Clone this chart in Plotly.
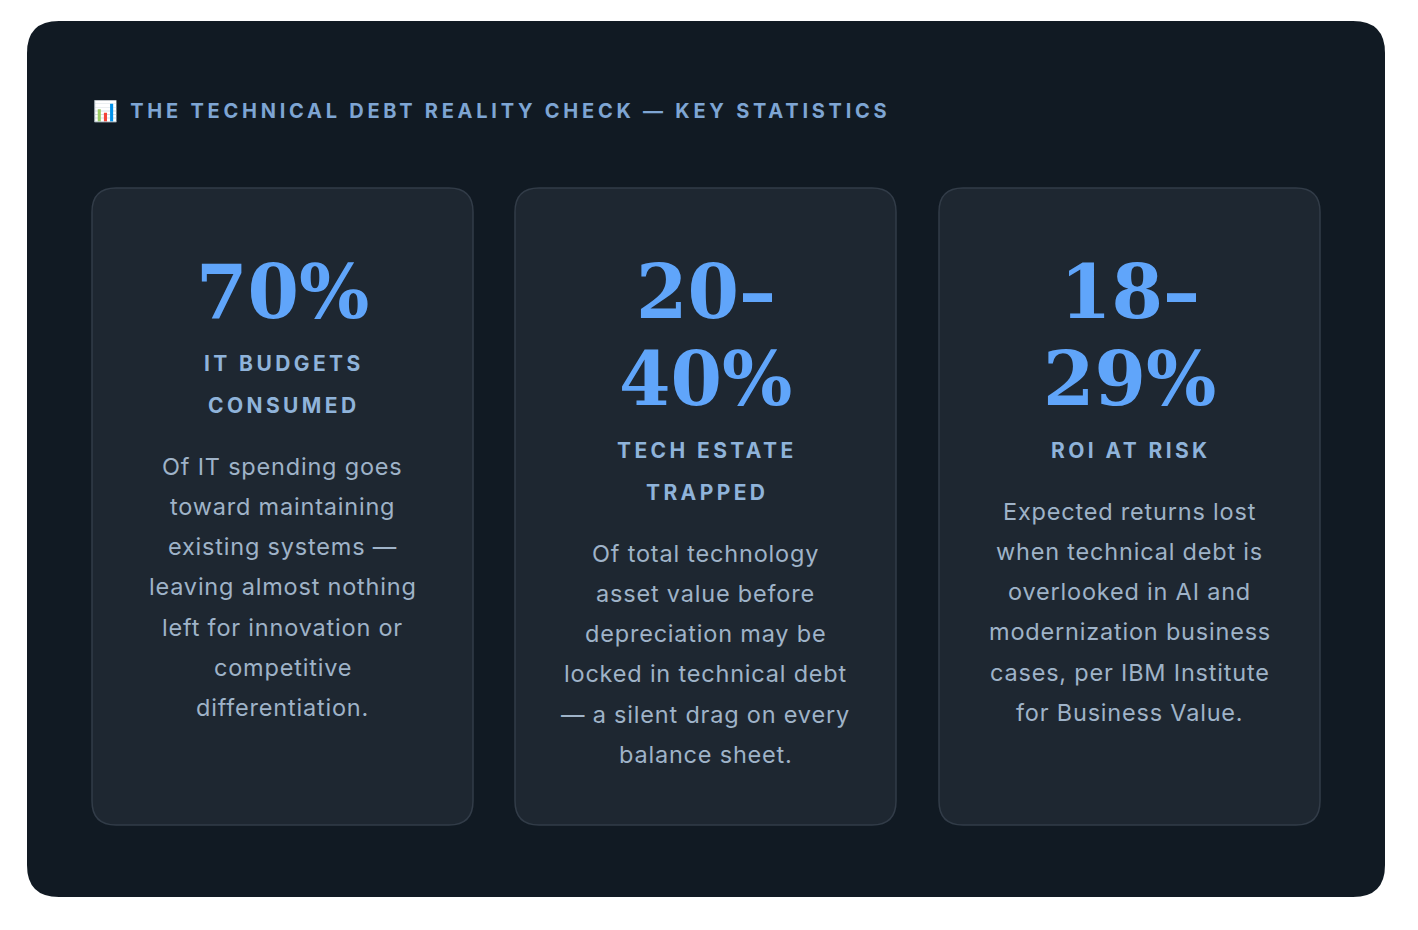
import plotly.graph_objects as go

# ---- data ----
title_text = "📊 THE TECHNICAL DEBT REALITY CHECK — KEY STATISTICS"
stat_values = [["70%"], ["20–", "40%"], ["18–", "29%"]]
stat_labels = [["IT BUDGETS", "CONSUMED"], ["TECH ESTATE", "TRAPPED"], ["ROI AT RISK"]]
stat_descriptions = [
    ["Of IT spending goes", "toward maintaining", "existing systems —",
     "leaving almost nothing", "left for innovation or", "competitive",
     "differentiation."],
    ["Of total technology", "asset value before", "depreciation may be",
     "locked in technical debt", "— a silent drag on every", "balance sheet."],
    ["Expected returns lost", "when technical debt is", "overlooked in AI and",
     "modernization business", "cases, per IBM Institute", "for Business Value."],
]

# ---- style ----
PAGE_W, PAGE_H = 1418, 930
OFF = 8  # page body margin
W, H = PAGE_W - 2 * OFF, PAGE_H - 2 * OFF
BG_OUT = "#ffffff"
PANEL = "#111a23"
CARD = "#1e2731"
CARD_LINE = "#323c48"
NUM_COL = "#60a5fa"
LABEL_COL = "#8fb3da"
DESC_COL = "#9fb3c8"
TITLE_COL = "#7ea5d3"


def rrect(x0, y0, x1, y1, r):
    return (f"M {x0+r},{y0} L {x1-r},{y0} Q {x1},{y0} {x1},{y0+r} "
            f"L {x1},{y1-r} Q {x1},{y1} {x1-r},{y1} L {x0+r},{y1} "
            f"Q {x0},{y1} {x0},{y1-r} L {x0},{y0+r} Q {x0},{y0} {x0+r},{y0} Z")


shapes = [dict(type="path", xref="x", yref="y", path=rrect(27, 21, 1385, 897, 32),
               fillcolor=PANEL, line=dict(width=0), layer="below")]
annotations = []

annotations.append(dict(
    x=91, y=111, xref="x", yref="y", xanchor="left", yanchor="middle",
    showarrow=False,
    text=f"<b><span style='letter-spacing:3.75px'>{title_text}</span></b>",
    font=dict(family="Inter, DejaVu Sans", size=20, color=TITLE_COL),
))

card_x0 = [92, 515, 939]
card_w = 381
card_y0, card_y1 = 188, 825

for i in range(len(stat_values)):
    x0 = card_x0[i]
    x1 = x0 + card_w
    cx = (x0 + x1) / 2
    shapes.append(dict(type="path", xref="x", yref="y", path=rrect(x0, card_y0, x1, card_y1, 24),
                       fillcolor=CARD, line=dict(color=CARD_LINE, width=1.5), layer="below"))
    y = 292
    for j, line in enumerate(stat_values[i]):
        if j > 0:
            y += 87
        annotations.append(dict(
            x=cx, y=y, xref="x", yref="y", xanchor="center", yanchor="middle",
            showarrow=False, text=f"<b>{line}</b>",
            font=dict(family="DejaVu Serif", size=74, color=NUM_COL),
        ))
    y += 71
    for j, line in enumerate(stat_labels[i]):
        if j > 0:
            y += 42
        annotations.append(dict(
            x=cx + 1.7, y=y, xref="x", yref="y", xanchor="center", yanchor="middle",
            showarrow=False,
            text=f"<b><span style='letter-spacing:3.4px'>{line}</span></b>",
            font=dict(family="Inter, DejaVu Sans", size=21, color=LABEL_COL),
        ))
    y += 61
    for j, line in enumerate(stat_descriptions[i]):
        if j > 0:
            y += 40.3
        annotations.append(dict(
            x=cx, y=y, xref="x", yref="y", xanchor="center", yanchor="middle",
            showarrow=False,
            text=f"<span style='letter-spacing:0.8px'>{line}</span>",
            font=dict(family="Inter, DejaVu Sans", size=23.5, color=DESC_COL),
        ))

fig = go.Figure()
fig.update_layout(
    width=W, height=H,
    margin=dict(l=0, r=0, t=0, b=0),
    paper_bgcolor=BG_OUT, plot_bgcolor=BG_OUT,
    xaxis=dict(range=[OFF, OFF + W], visible=False, fixedrange=True),
    yaxis=dict(range=[OFF + H, OFF], visible=False, fixedrange=True),
    shapes=shapes, annotations=annotations, showlegend=False,
)
fig.write_html("out.html", config={"displayModeBar": False})
